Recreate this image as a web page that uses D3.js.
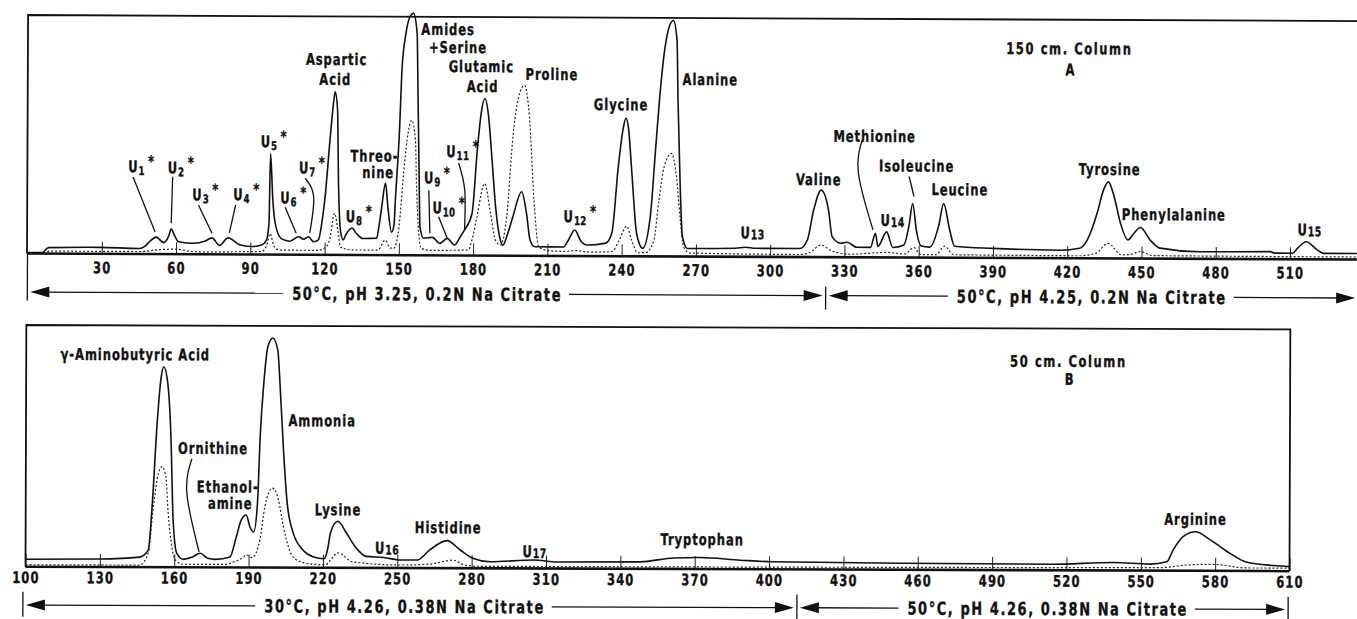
<!DOCTYPE html>
<html>
<head>
<meta charset="utf-8">
<script src="https://cdn.jsdelivr.net/npm/d3@7"></script>
<style>
  body { margin: 0; background: #fff; }
  svg { display: block; }
  .lbl, .cond, .tick text {
    font-family: "DejaVu Sans Condensed", "Liberation Sans Narrow", "DejaVu Sans", sans-serif;
    font-weight: bold;
    fill: #111;
    stroke: #111;
    stroke-width: 0.35px;
  }
  .lbl { font-size: 16px; letter-spacing: 1.2px; }
  .cond { font-size: 18px; letter-spacing: 2px; }
  .tick text { font-size: 16px; letter-spacing: 1.5px; }
  .tick line { stroke: #222; stroke-width: 1; }
  .solid { fill: none; stroke: #111; stroke-width: 1.6; }
  .dotted { fill: none; stroke: #222; stroke-width: 1.2; stroke-dasharray: 2,2; }
  .frame { fill: none; stroke: #111; stroke-width: 1.8; }
  .base { stroke: #111; stroke-width: 2.6; }
  .lead { fill: none; stroke: #111; stroke-width: 1.3; }
</style>
</head>
<body>
<div id="chart"></div>
<script>
// Global vars

const W = 1357;
const H = 619;
// the printed type is tall and narrow: squeeze text horizontally
const squeeze = 0.8;

//
// Panel A: 150 cm column  [effluent, deflection]
//
const solidA = [[0, 1], [6, 1], [8.5, 6], [29, 6.5], [45, 5.5], [47.5, 8], [49.5, 13], [52, 17], [55, 11.5],
  [57, 18], [58, 25], [59.5, 18], [61, 12.5], [67, 11], [71.5, 13], [74.5, 16.5], [77.5, 9], [81, 16.5],
  [86, 9.5], [91, 8], [94.5, 9.5], [96.5, 14.5], [97.5, 31.5], [98, 101], [99, 55], [100, 31.5], [102.5, 16],
  [106, 13.5], [109.5, 18], [111.5, 15.5], [113.5, 18], [115.5, 13], [117.5, 15], [119, 35], [120, 55],
  [122, 115], [123.5, 155], [124, 163], [125, 145], [125.5, 72], [126.5, 22], [127.5, 15], [128.5, 20],
  [131, 27], [133, 21], [135.5, 16.5], [141, 17], [142, 30], [143, 48], [144.5, 72], [145.5, 48], [147, 23],
  [148, 30], [148.5, 55], [150, 122], [151, 188], [152.5, 222], [154, 238], [155.5, 242], [157, 222],
  [157.5, 155], [158, 88], [158.5, 28.5], [160, 17], [163.5, 18], [166.5, 12], [169.5, 17], [172.5, 10.5],
  [175, 19.5], [176.5, 25.5], [179.5, 42], [181.5, 105], [183, 142], [184.5, 157], [186, 139.5], [187.5, 95.5],
  [189, 49], [191, 15.5], [192, 10.5], [194, 22.5], [196, 39], [199.5, 64], [201.5, 42.5], [203, 15.5],
  [205, 9], [216.5, 9], [218.5, 16], [221, 26], [223.5, 15], [226, 11], [233.5, 13], [236, 23], [238.5, 89.5],
  [240.5, 129], [241.5, 138], [242.5, 129], [244, 83], [246, 23], [248.5, 8], [251.5, 39.5], [253.5, 106],
  [255, 156], [257, 206], [259, 231], [260.5, 236], [262, 216.5], [262.5, 156.5], [263.5, 73], [264.5, 20.5],
  [266.5, 8], [286, 8.5], [290, 9.5], [294, 8.5], [312, 8.5], [315, 17], [317.5, 47], [320.5, 67], [323.5, 47],
  [325, 20.5], [328.5, 14], [331, 15], [335, 10], [340.5, 10], [342.5, 24], [343.5, 11], [347, 25.5],
  [349.5, 10], [354, 12.5], [356, 31.5], [357.5, 54], [359, 27.5], [361, 11.5], [364.5, 10.5], [368, 31.5],
  [370, 54], [372.5, 27.5], [374.5, 11.5], [390, 9.5], [417, 8], [425, 10], [428, 18], [432, 45], [434.5, 68],
  [436.5, 76.5], [438.5, 65], [441.5, 35], [444.5, 18.5], [447, 25.5], [449.5, 31], [453.5, 18.5],
  [457.5, 10.5], [473.5, 7], [502, 7.5], [504, 6], [511, 6], [513, 11], [516.5, 17.5], [521, 9.5], [523.5, 6],
  [537, 6]];

const dottedA = [[0, 0.5], [7, 0.5], [9, 2.5], [45.5, 2.5], [53.5, 4.5], [60, 5], [67.5, 2.5], [94.5, 3],
  [96.5, 8.5], [98, 21], [99.5, 8.5], [102, 4.5], [117.5, 4.5], [121, 9], [122, 15], [124, 41.5], [125.5, 21.5],
  [126.5, 7.5], [131.5, 5], [141.5, 5], [144.5, 15], [146.5, 7], [148, 7], [150, 28.5], [152, 88.5],
  [153.5, 122], [155, 135], [156.5, 115], [157, 72], [158, 22], [159, 7], [162.5, 5], [178, 5.5], [179.5, 15.5],
  [181.5, 39], [184.5, 72], [187, 42], [189, 15.5], [191, 10.5], [193.5, 39], [196, 122], [198, 157.5],
  [200.5, 170.5], [202.5, 139], [204.5, 56], [206.5, 9], [211, 5], [217, 4.5], [221, 5.5], [227, 4],
  [236, 4.5], [239, 16], [242, 30], [244, 16], [246.5, 3.5], [250, 4], [253, 16.5], [255, 56.5], [257, 89.5],
  [260, 103], [262, 80], [263.5, 40], [265, 10], [267.5, 3.5], [312, 2.5], [316, 4.5], [320.5, 12], [325, 6],
  [332.5, 3], [342.5, 4.5], [347, 5], [354.5, 3.5], [358, 10], [361, 3], [367, 3], [370.5, 11.5], [374, 3],
  [425, 2.5], [431.5, 5], [436.5, 15], [442, 3.5], [445.5, 4], [449.5, 7], [454.5, 3], [537, 2.5]];

const ticksA = d3.range(30, 511, 30);

// Peak names: centre of text at [effluent, deflection]
const namesA = [
  ["Aspartic", 124.5, 190], ["Acid", 124, 170], ["Threo-", 140, 93.5], ["nine", 141.5, 77],
  ["Amides", 169.5, 220.5], ["+Serine", 173.5, 202.5], ["Glutamic", 183, 183.5], ["Acid", 183.5, 163.5],
  ["Proline", 211.5, 176], ["Glycine", 239.5, 146], ["Alanine", 275.5, 171.5], ["Valine", 319.5, 72],
  ["Methionine", 342, 115.5], ["Isoleucine", 359, 86], ["Leucine", 376.5, 62.5], ["Tyrosine", 437, 83.5],
  ["Phenylalanine", 463, 38.5]];
// Unknowns: [index, star, effluent at left edge, deflection]
const unknownsA = [
  ["1", true, 40.5, 82], ["2", true, 56.5, 81], ["3", true, 66.5, 54], ["4", true, 83, 54.5],
  ["5", true, 94, 107.5], ["6", true, 102, 51.5], ["7", true, 109.5, 81.5], ["8", true, 128.5, 33],
  ["9", true, 160, 72], ["10", true, 163.5, 42], ["11", true, 169, 98.5], ["12", true, 216.5, 34],
  ["13", false, 288, 18.5], ["14", false, 344.5, 31.5], ["15", false, 513, 24]];
const leadersA = [
  [[42.5, 77], [51.5, 22]], [[58.5, 77.5], [58, 31]], [[69, 49], [74.5, 21]], [[84, 49.5], [81.5, 21.5]],
  [[104, 47.5], [108.5, 21.5]], [[112, 76.5], [115.5, 58], [114, 22]], [[162, 65], [162.5, 22]],
  [[166, 38.5], [169.5, 17.5]], [[174, 92.5], [176.5, 65.5], [176.5, 26]], [[337, 117], [335.5, 84], [341.5, 27.5]],
  [[356, 81], [358, 61]]];
const titleA = [["150 cm. Column", 420.5, 204], ["A", 421, 183]];
const condA = [
  {from: 0, to: 322.5, mid: 161.5, text: "50°C, pH 3.25, 0.2N Na Citrate"},
  {from: 322.5, to: 537.6, mid: 430, text: "50°C, pH 4.25, 0.2N Na Citrate"}];

//
// Panel B: 50 cm column
//
const solidB = [[100, 7.5], [130, 8], [146, 10], [149.5, 17], [151, 60.5], [153, 147], [154.5, 190.5],
  [155.5, 200.5], [157, 187], [158.5, 130.5], [159.5, 47], [161, 14], [163.5, 8], [167, 10], [170.5, 14],
  [173.5, 9], [176.5, 8], [182.5, 10.5], [185, 30.5], [187, 47.5], [189, 52.5], [190.5, 40.5], [192, 35.5],
  [193.5, 64], [194.5, 130.5], [196, 187.5], [197.5, 221], [199.5, 229.5], [201.5, 217.5], [202.5, 181],
  [204, 114.5], [205.5, 64.5], [208, 34.5], [212, 17.5], [216, 11], [220.5, 9], [222, 20], [223, 35],
  [226, 46.5], [229.5, 34.5], [233.5, 19.5], [237.5, 11.5], [244.5, 10.5], [251, 8], [258, 8], [263, 18],
  [270, 27.5], [275.5, 18], [280.5, 10], [287.5, 6.5], [305, 8.5], [314.5, 6.5], [348, 7], [361.5, 11],
  [372, 11.5], [388.5, 9], [401.5, 7.5], [453, 6.5], [513.5, 6], [539, 8], [553.5, 6.5], [560.5, 9],
  [563, 20.5], [567, 34], [572, 39], [578, 31], [586, 17.5], [592.5, 9], [603.5, 5.5], [610, 4.5]];

const dottedB = [[100, 2], [146, 2], [149.5, 14], [151.5, 60.5], [153.5, 94], [155, 100.5], [156.5, 90.5],
  [157.5, 54], [159, 20.5], [160.5, 7], [163.5, 3], [180.5, 3], [184, 5.5], [188, 10.5], [189, 12.5],
  [191.5, 10], [194.5, 27.5], [196.5, 61], [199.5, 79.5], [202, 67.5], [204, 41], [206.5, 17.5], [209.5, 7.5],
  [216, 3.5], [221, 3], [223, 7.5], [226, 15], [232, 6], [251, 3], [263, 4], [272.5, 8], [277.5, 3],
  [283.5, 2], [557.5, 3], [570, 6], [579, 6.5], [592.5, 3], [610, 3]];

const ticksB = d3.range(100, 611, 30);

const namesB = [
  ["γ-Aminobutyric Acid", 144, 207], ["Ornithine", 175.5, 113.5], ["Ethanol-", 181.5, 75], ["amine", 182.5, 58.5],
  ["Ammonia", 219.5, 141.5], ["Lysine", 226, 52.5], ["Histidine", 270.5, 35], ["Tryptophan", 373, 24],
  ["Arginine", 572, 46]];
const unknownsB = [["16", false, 241, 14.5], ["17", false, 300.5, 11.5]];
const leadersB = [[[167, 108.5], [165, 74], [170, 15.5]]];
const titleB = [["50 cm. Column", 520.5, 203.5], ["B", 521, 185.5]];
const condB = [
  {from: 99, to: 411.3, mid: 253, text: "30°C, pH 4.26, 0.38N Na Citrate"},
  {from: 411.3, to: 609.5, mid: 512.5, text: "50°C, pH 4.26, 0.38N Na Citrate"}];

const svg = d3.select("#chart")
  .append("svg")
  .attr("width", W)
  .attr("height", H);

svg.append("rect").attr("width", W).attr("height", H).attr("fill", "#fff");

/**
 * Transform that places a text and squeezes it horizontally.
 * @param {number} x
 * @param {number} y
 * @return {string}
 */
function place(x, y) {
  return "translate(" + x + "," + y + ") scale(" + squeeze + ",1)";
}

/**
 * Draw one chromatogram panel.
 * @param {*} p panel settings
 */
function drawPanel(p) {
  const g = svg.append("g")
    .attr("transform", "rotate(" + p.rot + "," + p.x.range()[0] + "," + p.y(0) + ")");
  const x = p.x;
  const y = p.y;
  const base = y(0);

  // tick marks + labels
  g.append("g")
    .attr("transform", "translate(0," + base + ")")
    .call(d3.axisBottom(x).tickValues(p.ticks).tickSizeInner(-p.tickLen).tickSizeOuter(0)
      .tickPadding(p.pad).tickFormat(d3.format("d")))
    .call(function(a) {
      a.select(".domain").remove();
      a.selectAll(".tick text").attr("transform", "scale(" + squeeze + ",1)");
    });

  // frame
  g.append("path")
    .attr("class", "frame")
    .attr("d", p.framePath);
  g.append("line")
    .attr("class", "base")
    .attr("x1", p.axisFrom).attr("x2", p.axisTo)
    .attr("y1", base).attr("y2", base);

  const line = d3.line()
    .x(function(d) {
      return x(d[0]);
    })
    .y(function(d) {
      return y(d[1]);
    })
    .curve(d3.curveMonotoneX);

  g.append("path").datum(p.dotted).attr("class", "dotted").attr("d", line);
  g.append("path").datum(p.solid).attr("class", "solid").attr("d", line);

  // leader lines
  const lead = d3.line()
    .x(function(d) {
      return x(d[0]);
    })
    .y(function(d) {
      return y(d[1]);
    })
    .curve(d3.curveNatural);
  g.selectAll(".lead")
    .data(p.leaders)
    .enter()
    .append("path")
    .attr("class", "lead")
    .attr("d", lead);

  // names
  g.selectAll(".name")
    .data(p.names.concat(p.titles))
    .enter()
    .append("text")
    .attr("class", "lbl")
    .attr("text-anchor", "middle")
    .attr("transform", function(d) {
      return place(x(d[1]), y(d[2]));
    })
    .style("letter-spacing", function(d) {
      return d[0].indexOf("Column") >= 0 ? "2px" : null;
    })
    .text(function(d) {
      return d[0];
    });

  // unknown peaks U1..U17
  p.unknowns.forEach(function(u) {
    const t = g.append("text")
      .attr("class", "lbl")
      .attr("transform", place(x(u[2]), y(u[3])));
    t.append("tspan").text("U");
    t.append("tspan")
      .attr("font-size", u[1] ? 12 : 13)
      .attr("dy", u[1] ? 3 : 1)
      .style("letter-spacing", "0.5px")
      .text(u[0]);
    if (u[1]) {
      t.append("tspan").attr("font-size", 16).attr("dx", 4).attr("dy", -8).text("*");
    }
  });

  // elution conditions below the axis
  const rowY = base + p.rowOff;
  p.cond.forEach(function(c) {
    const x0 = x(c.from) + 3;
    const x1 = x(c.to) - 3;
    const cx = x(c.mid);
    const t = g.append("text")
      .attr("class", "cond")
      .attr("transform", place(cx, rowY + 6.5))
      .attr("text-anchor", "middle")
      .text(c.text);
    const tw = t.node().getComputedTextLength() * squeeze;
    g.append("line").attr("class", "lead")
      .attr("x1", x0 + 10).attr("x2", cx - tw / 2 - 9)
      .attr("y1", rowY).attr("y2", rowY);
    g.append("line").attr("class", "lead")
      .attr("x1", cx + tw / 2 + 7).attr("x2", x1 - 10)
      .attr("y1", rowY).attr("y2", rowY);
    g.append("path")
      .attr("fill", "#111")
      .attr("d", "M" + x0 + "," + rowY + "l19,-5.5v11z");
    g.append("path")
      .attr("fill", "#111")
      .attr("d", "M" + x1 + "," + rowY + "l-19,-5.5v11z");
  });
  p.bars.forEach(function(b) {
    g.append("line").attr("class", "lead")
      .attr("x1", x(b[0])).attr("x2", x(b[0]))
      .attr("y1", base + b[1]).attr("y2", base + b[2]);
  });
}

// Scales
const xA = d3.scaleLinear().domain([0, 510]).range([27.5, 1290]);
const yA = d3.scaleLinear().domain([0, 238.5]).range([253.5, 15]);
const xB = d3.scaleLinear().domain([100, 610]).range([25.5, 1289.5]);
const yB = d3.scaleLinear().domain([0, 241.7]).range([566.7, 325]);

drawPanel({
  x: xA, y: yA, rot: 0.26, ticks: ticksA, tickLen: 12, pad: 8,
  framePath: "M" + W + "," + yA(238.5) + "H27V" + yA(0),
  axisFrom: 27, axisTo: W,
  solid: solidA, dotted: dottedA, names: namesA, titles: titleA,
  unknowns: unknownsA, leaders: leadersA, cond: condA, rowOff: 38.5,
  bars: [[0, 0, 47], [322.5, 29.5, 52.5]],
});

drawPanel({
  x: xB, y: yB, rot: 0.2, ticks: ticksB, tickLen: 13, pad: 5,
  framePath: "M" + xB(100) + "," + yB(0) + "V" + yB(241.7) + "H" + xB(610) + "V" + yB(0),
  axisFrom: xB(100), axisTo: xB(610),
  solid: solidB, dotted: dottedB, names: namesB, titles: titleB,
  unknowns: unknownsB, leaders: leadersB, cond: condB, rowOff: 38.3,
  bars: [[99, 25, 50], [411.3, 25, 51], [609.5, 26, 51]],
});
</script>
</body>
</html>
